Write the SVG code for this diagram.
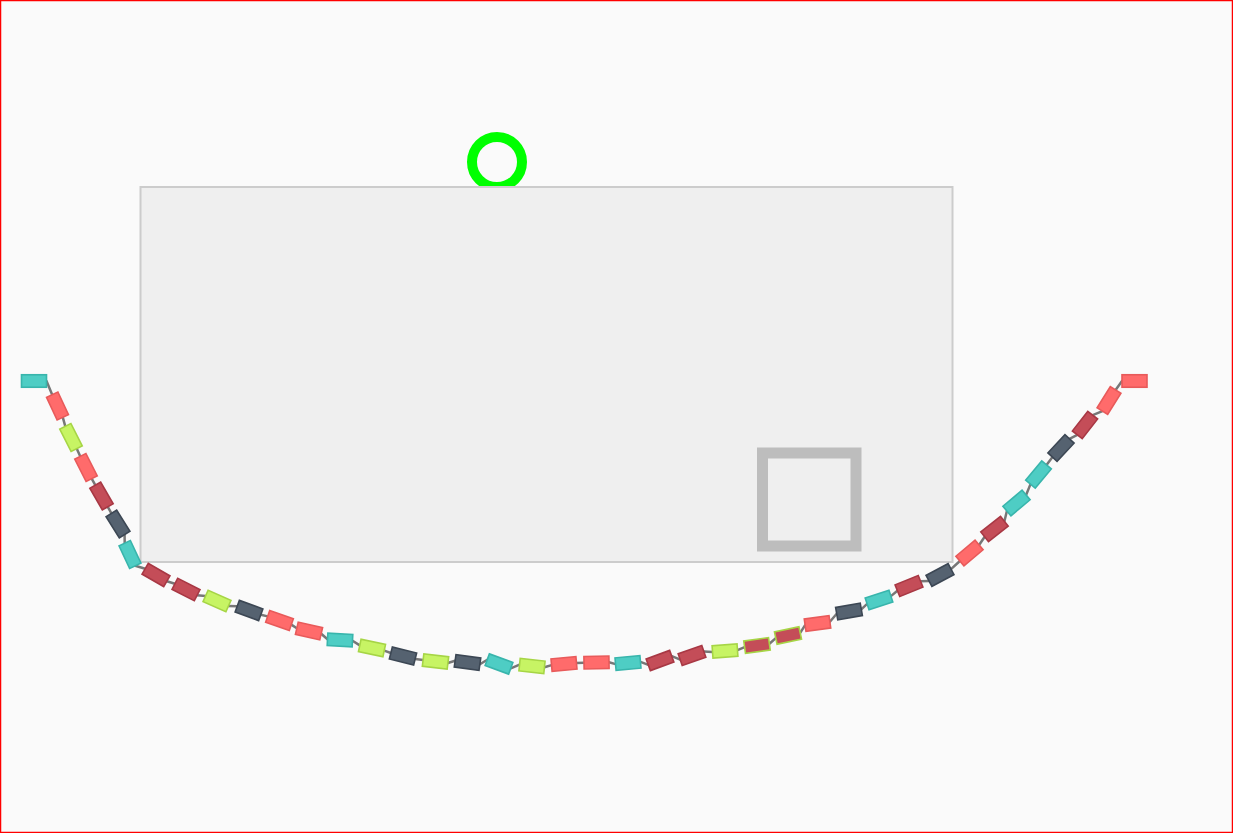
<svg xmlns="http://www.w3.org/2000/svg" width="1233" height="833" viewBox="0 0 1233 833">
<style>
.teal,.red,.lime,.dark,.crim,.crimL{stroke-width:1.6}
.teal{fill:#4ecdc4;stroke:#38b5ac}
.red{fill:#ff6b6b;stroke:#e85a5a}
.lime{fill:#c7f464;stroke:#a6d545}
.dark{fill:#556270;stroke:#3c4754}
.crim{fill:#c44d58;stroke:#a83844}
.crimL{fill:#c44d58;stroke:#a6d545}
#connectors line{stroke:#777;stroke-width:2.5;stroke-linecap:round}
</style>
<defs>
<rect id="r" x="-12.5" y="-6.25" width="25" height="12.5"/>
</defs>
<rect x="0.5" y="0.5" width="1232" height="832" fill="#fafafa" stroke="#ff0000" stroke-width="1.5"/>
<g id="ball"><circle cx="497" cy="162" r="25" fill="none" stroke="#00ff00" stroke-width="10"/></g>
<g id="platform"><rect x="140.5" y="187" width="812" height="375" fill="#efefef" stroke="#cccccc" stroke-width="2"/></g>
<g id="box"><rect x="762.5" y="453" width="93.5" height="93" fill="none" stroke="#bdbdbd" stroke-width="11"/></g>
<g id="connectors">
<line x1="46.5" y1="381" x2="52.2" y2="394.7"/>
<line x1="62.8" y1="417.3" x2="65.3" y2="426.4"/>
<line x1="76.7" y1="448.6" x2="80.3" y2="456.4"/>
<line x1="91.7" y1="478.6" x2="95.3" y2="485.2"/>
<line x1="107.8" y1="506.8" x2="111.4" y2="513.4"/>
<line x1="124.6" y1="534.6" x2="124.7" y2="543.2"/>
<line x1="135.3" y1="565.8" x2="145.2" y2="568.8"/>
<line x1="166.8" y1="581.3" x2="174.9" y2="583.8"/>
<line x1="197.1" y1="595.2" x2="205.6" y2="595.9"/>
<line x1="228.4" y1="606.1" x2="237.3" y2="606.2"/>
<line x1="260.8" y1="614.8" x2="267.7" y2="616.4"/>
<line x1="291.3" y1="624.6" x2="296.8" y2="628.2"/>
<line x1="321.2" y1="633.8" x2="327.5" y2="639.3"/>
<line x1="352.5" y1="640.7" x2="359.8" y2="645.4"/>
<line x1="384.2" y1="650.6" x2="390.9" y2="653"/>
<line x1="415.1" y1="659" x2="423.1" y2="660"/>
<line x1="447.9" y1="663" x2="455.1" y2="660.8"/>
<line x1="479.9" y1="664.2" x2="487.3" y2="659.7"/>
<line x1="510.8" y1="668.3" x2="519.6" y2="664.7"/>
<line x1="544.4" y1="667.3" x2="551.6" y2="665.1"/>
<line x1="576.5" y1="662.9" x2="584" y2="662.7"/>
<line x1="609" y1="662.3" x2="615.6" y2="664.1"/>
<line x1="640.5" y1="661.9" x2="648.3" y2="664.8"/>
<line x1="671.8" y1="656.2" x2="680.2" y2="659.6"/>
<line x1="703.8" y1="651.4" x2="712.5" y2="651.9"/>
<line x1="737.5" y1="650.1" x2="744.6" y2="647.2"/>
<line x1="769.4" y1="643.8" x2="775.8" y2="638.1"/>
<line x1="800.2" y1="632.9" x2="805.1" y2="625.2"/>
<line x1="829.9" y1="621.8" x2="836.7" y2="613.7"/>
<line x1="861.3" y1="609.3" x2="867.1" y2="603.9"/>
<line x1="890.9" y1="596.1" x2="897.4" y2="590.7"/>
<line x1="920.6" y1="581.3" x2="929" y2="580.9"/>
<line x1="951" y1="569.1" x2="959.9" y2="561"/>
<line x1="979.1" y1="545" x2="984.7" y2="536.7"/>
<line x1="1004.4" y1="521.3" x2="1006.9" y2="511"/>
<line x1="1026.1" y1="495" x2="1030.5" y2="484.1"/>
<line x1="1046.5" y1="464.9" x2="1052.5" y2="457.1"/>
<line x1="1069.5" y1="438.9" x2="1077.3" y2="434.9"/>
<line x1="1092.7" y1="415.2" x2="1102.4" y2="411.1"/>
<line x1="1115.6" y1="389.9" x2="1122" y2="381"/>
</g>
<g id="links">
<g id="link1"><use href="#r" class="teal" transform="translate(34,381)"/></g>
<g id="link2"><use href="#r" class="red" transform="translate(57.5,406) rotate(65)"/></g>
<g id="link3"><use href="#r" class="lime" transform="translate(71,437.5) rotate(63)"/></g>
<g id="link4"><use href="#r" class="red" transform="translate(86,467.5) rotate(63)"/></g>
<g id="link5"><use href="#r" class="crim" transform="translate(101.5,496) rotate(60)"/></g>
<g id="link6"><use href="#r" class="dark" transform="translate(118,524) rotate(58)"/></g>
<g id="link7"><use href="#r" class="teal" transform="translate(130,554.5) rotate(65)"/></g>
<g id="link8"><use href="#r" class="crim" transform="translate(156,575) rotate(30)"/></g>
<g id="link9"><use href="#r" class="crim" transform="translate(186,589.5) rotate(27)"/></g>
<g id="link10"><use href="#r" class="lime" transform="translate(217,601) rotate(24)"/></g>
<g id="link11"><use href="#r" class="dark" transform="translate(249,610.5) rotate(20)"/></g>
<g id="link12"><use href="#r" class="red" transform="translate(279.5,620.5) rotate(19)"/></g>
<g id="link13"><use href="#r" class="red" transform="translate(309,631) rotate(13)"/></g>
<g id="link14"><use href="#r" class="teal" transform="translate(340,640) rotate(3)"/></g>
<g id="link15"><use href="#r" class="lime" transform="translate(372,648) rotate(12)"/></g>
<g id="link16"><use href="#r" class="dark" transform="translate(403,656) rotate(14)"/></g>
<g id="link17"><use href="#r" class="lime" transform="translate(435.5,661.5) rotate(7)"/></g>
<g id="link18"><use href="#r" class="dark" transform="translate(467.5,662.5) rotate(8)"/></g>
<g id="link19"><use href="#r" class="teal" transform="translate(499,664) rotate(20)"/></g>
<g id="link20"><use href="#r" class="lime" transform="translate(532,666) rotate(6)"/></g>
<g id="link21"><use href="#r" class="red" transform="translate(564,664) rotate(-5)"/></g>
<g id="link22"><use href="#r" class="red" transform="translate(596.5,662.5) rotate(-1)"/></g>
<g id="link23"><use href="#r" class="teal" transform="translate(628,663) rotate(-5)"/></g>
<g id="link24"><use href="#r" class="crim" transform="translate(660,660.5) rotate(-20)"/></g>
<g id="link25"><use href="#r" class="crim" transform="translate(692,655.5) rotate(-19)"/></g>
<g id="link26"><use href="#r" class="lime" transform="translate(725,651) rotate(-4)"/></g>
<g id="link27"><use href="#r" class="crimL" transform="translate(757,645.5) rotate(-8)"/></g>
<g id="link28"><use href="#r" class="crimL" transform="translate(788,635.5) rotate(-12)"/></g>
<g id="link29"><use href="#r" class="red" transform="translate(817.5,623.5) rotate(-8)"/></g>
<g id="link30"><use href="#r" class="dark" transform="translate(849,611.5) rotate(-10)"/></g>
<g id="link31"><use href="#r" class="teal" transform="translate(879,600) rotate(-18)"/></g>
<g id="link32"><use href="#r" class="crim" transform="translate(909,586) rotate(-22)"/></g>
<g id="link33"><use href="#r" class="dark" transform="translate(940,575) rotate(-28)"/></g>
<g id="link34"><use href="#r" class="red" transform="translate(969.5,553) rotate(-40)"/></g>
<g id="link35"><use href="#r" class="crim" transform="translate(994.5,529) rotate(-38)"/></g>
<g id="link36"><use href="#r" class="teal" transform="translate(1016.5,503) rotate(-40)"/></g>
<g id="link37"><use href="#r" class="teal" transform="translate(1038.5,474.5) rotate(-50)"/></g>
<g id="link38"><use href="#r" class="dark" transform="translate(1061,448) rotate(-47)"/></g>
<g id="link39"><use href="#r" class="crim" transform="translate(1085,425) rotate(-52)"/></g>
<g id="link40"><use href="#r" class="red" transform="translate(1109,400.5) rotate(-58)"/></g>
<g id="link41"><use href="#r" class="red" transform="translate(1134.5,381)"/></g>
</g>
</svg>
